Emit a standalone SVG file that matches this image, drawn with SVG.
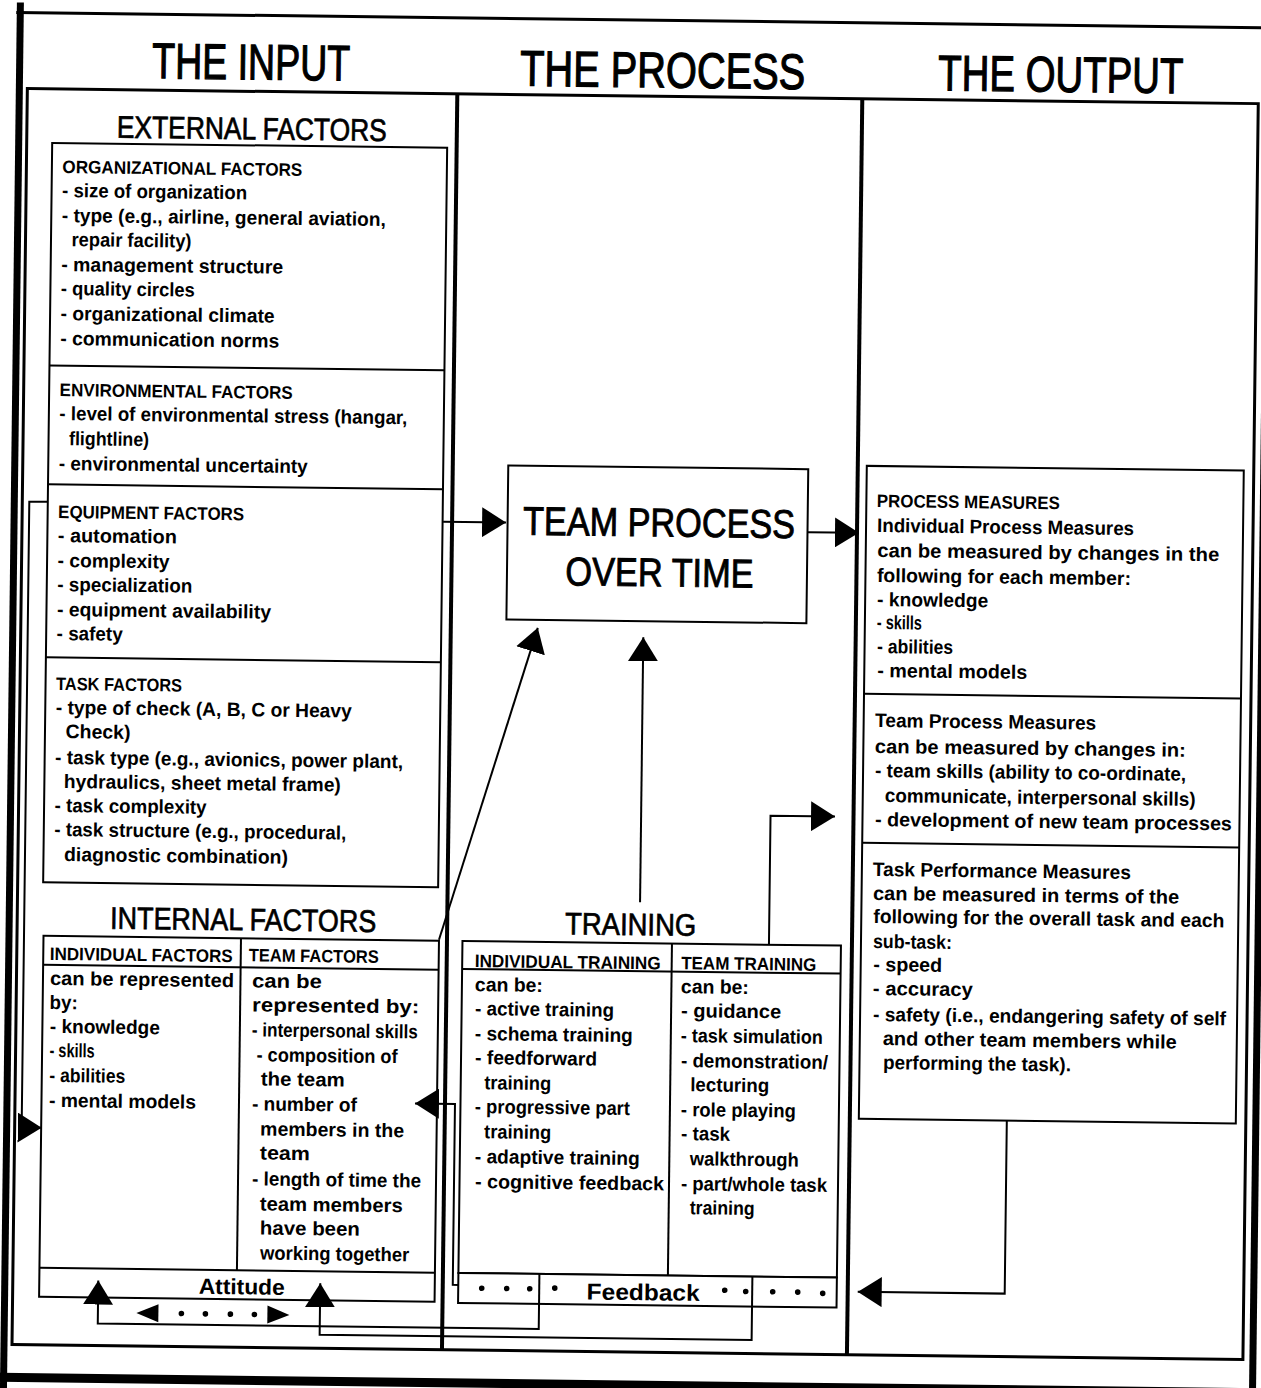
<svg xmlns="http://www.w3.org/2000/svg" width="1261" height="1388" viewBox="0 0 1261 1388">
<defs>
<style>
text{font-family:"Liberation Sans",Arial,sans-serif;fill:#000}
.b{font-size:19.5px;font-weight:bold}
.h{font-size:18px;font-weight:bold}
.big{font-size:50px;stroke:#000;stroke-width:1.2}
.mid{font-size:31px;stroke:#000;stroke-width:0.7}
.tp{font-size:40px;stroke:#000;stroke-width:0.9}
.lbl{font-size:22px;font-weight:bold}
.ln{stroke:#000;stroke-width:2;fill:none}
.box{stroke:#000;stroke-width:2;fill:#fff}
.c{stroke:#000;stroke-width:2;fill:none;marker-end:url(#ah)}
</style>
<marker id="ah" markerWidth="24" markerHeight="30" refX="24" refY="15" orient="auto" markerUnits="userSpaceOnUse"><path d="M0,0 L24,15 L0,30 z" fill="#000"/></marker>
</defs>
<rect width="1261" height="1388" fill="#fff"/>
<g transform="rotate(0.7 630 694)">
<g id="frame">
<line x1="12" y1="10" x2="12" y2="1400" stroke="#000" stroke-width="7"/>
<line x1="8" y1="20" x2="1265" y2="20" stroke="#000" stroke-width="3"/>
<line x1="1261" y1="18" x2="1261" y2="1400" stroke="#000" stroke-width="7"/>
<line x1="8" y1="1385" x2="1265" y2="1385" stroke="#000" stroke-width="9"/>
<rect x="20" y="96" width="1231" height="1256" fill="none" stroke="#000" stroke-width="3"/>
<line x1="450" y1="96" x2="450" y2="1352" stroke="#000" stroke-width="4"/>
<line x1="855" y1="96" x2="855" y2="1352" stroke="#000" stroke-width="4"/>
</g>
<g id="input-title"><text class="big" x="144.5" y="84" textLength="198" lengthAdjust="spacingAndGlyphs">THE INPUT</text></g>
<g id="process-title"><text class="big" x="512.6" y="87" textLength="285" lengthAdjust="spacingAndGlyphs">THE PROCESS</text></g>
<g id="output-title"><text class="big" x="930.7" y="86.5" textLength="245" lengthAdjust="spacingAndGlyphs">THE OUTPUT</text></g>

<g id="external-factors">
<text class="mid" x="110" y="144" textLength="270" lengthAdjust="spacingAndGlyphs">EXTERNAL FACTORS</text>
<rect class="box" x="45.5" y="150" width="395" height="739.5"/>
<line class="ln" x1="45.5" y1="372.5" x2="440.5" y2="372.5"/>
<line class="ln" x1="45.5" y1="491.5" x2="440.5" y2="491.5"/>
<line class="ln" x1="45.5" y1="664.5" x2="440.5" y2="664.5"/>
<text class="h" x="56" y="180" textLength="240" lengthAdjust="spacingAndGlyphs">ORGANIZATIONAL FACTORS</text>
<text class="b" x="56" y="204" textLength="185" lengthAdjust="spacingAndGlyphs">- size of organization</text>
<text class="b" x="56" y="229" textLength="324" lengthAdjust="spacingAndGlyphs">- type (e.g., airline, general aviation,</text>
<text class="b" x="66" y="253" textLength="120" lengthAdjust="spacingAndGlyphs">repair facility)</text>
<text class="b" x="56" y="278" textLength="222" lengthAdjust="spacingAndGlyphs">- management structure</text>
<text class="b" x="56" y="302" textLength="134" lengthAdjust="spacingAndGlyphs">- quality circles</text>
<text class="b" x="56" y="327" textLength="214" lengthAdjust="spacingAndGlyphs">- organizational climate</text>
<text class="b" x="56" y="352" textLength="219" lengthAdjust="spacingAndGlyphs">- communication norms</text>
<text class="h" x="56" y="403" textLength="233" lengthAdjust="spacingAndGlyphs">ENVIRONMENTAL FACTORS</text>
<text class="b" x="56" y="427" textLength="348" lengthAdjust="spacingAndGlyphs">- level of environmental stress (hangar,</text>
<text class="b" x="66" y="452" textLength="80" lengthAdjust="spacingAndGlyphs">flightline)</text>
<text class="b" x="56" y="477" textLength="249" lengthAdjust="spacingAndGlyphs">- environmental uncertainty</text>
<text class="h" x="56" y="525" textLength="186" lengthAdjust="spacingAndGlyphs">EQUIPMENT FACTORS</text>
<text class="b" x="56" y="549" textLength="119" lengthAdjust="spacingAndGlyphs">- automation</text>
<text class="b" x="56" y="574" textLength="112" lengthAdjust="spacingAndGlyphs">- complexity</text>
<text class="b" x="56" y="598" textLength="135" lengthAdjust="spacingAndGlyphs">- specialization</text>
<text class="b" x="56" y="623" textLength="214" lengthAdjust="spacingAndGlyphs">- equipment availability</text>
<text class="b" x="56" y="647" textLength="66" lengthAdjust="spacingAndGlyphs">- safety</text>
<text class="h" x="56" y="697" textLength="126" lengthAdjust="spacingAndGlyphs">TASK FACTORS</text>
<text class="b" x="56" y="721" textLength="296" lengthAdjust="spacingAndGlyphs">- type of check (A, B, C or Heavy</text>
<text class="b" x="66" y="745" textLength="65" lengthAdjust="spacingAndGlyphs">Check)</text>
<text class="b" x="56" y="771" textLength="348" lengthAdjust="spacingAndGlyphs">- task type (e.g., avionics, power plant,</text>
<text class="b" x="65" y="795" textLength="277" lengthAdjust="spacingAndGlyphs">hydraulics, sheet metal frame)</text>
<text class="b" x="56" y="819" textLength="152" lengthAdjust="spacingAndGlyphs">- task complexity</text>
<text class="b" x="56" y="843" textLength="292" lengthAdjust="spacingAndGlyphs">- task structure (e.g., procedural,</text>
<text class="b" x="66" y="868" textLength="224" lengthAdjust="spacingAndGlyphs">diagnostic combination)</text>
</g>

<g id="internal-factors">
<text class="mid" x="113" y="935" textLength="266" lengthAdjust="spacingAndGlyphs">INTERNAL FACTORS</text>
<rect class="box" x="46.5" y="943" width="395.5" height="361"/>
<line class="ln" x1="46.5" y1="972" x2="442" y2="972"/>
<line class="ln" x1="244" y1="943" x2="244" y2="1275"/>
<line class="ln" x1="46.5" y1="1275" x2="442" y2="1275"/>
<text class="h" x="53" y="967" textLength="183" lengthAdjust="spacingAndGlyphs">INDIVIDUAL FACTORS</text>
<text class="b" x="53.5" y="992" textLength="184" lengthAdjust="spacingAndGlyphs">can be represented</text>
<text class="b" x="53.5" y="1016" textLength="28" lengthAdjust="spacingAndGlyphs">by:</text>
<text class="b" x="54" y="1040" textLength="110" lengthAdjust="spacingAndGlyphs">- knowledge</text>
<text class="b" x="54" y="1064" textLength="45" lengthAdjust="spacingAndGlyphs">- skills</text>
<text class="b" x="54" y="1089" textLength="76" lengthAdjust="spacingAndGlyphs">- abilities</text>
<text class="b" x="54" y="1114" textLength="147" lengthAdjust="spacingAndGlyphs">- mental models</text>
<text class="h" x="252" y="966" textLength="130" lengthAdjust="spacingAndGlyphs">TEAM FACTORS</text>
<text class="b" x="255.5" y="992" textLength="70" lengthAdjust="spacingAndGlyphs">can be</text>
<text class="b" x="256" y="1016" textLength="167" lengthAdjust="spacingAndGlyphs">represented by:</text>
<text class="b" x="256" y="1041" textLength="166" lengthAdjust="spacingAndGlyphs">- interpersonal skills</text>
<text class="b" x="261" y="1066" textLength="141" lengthAdjust="spacingAndGlyphs">- composition of</text>
<text class="b" x="265.5" y="1090" textLength="84" lengthAdjust="spacingAndGlyphs">the team</text>
<text class="b" x="257" y="1115" textLength="105" lengthAdjust="spacingAndGlyphs">- number of</text>
<text class="b" x="265.5" y="1140" textLength="144" lengthAdjust="spacingAndGlyphs">members in the</text>
<text class="b" x="265.5" y="1164" textLength="50" lengthAdjust="spacingAndGlyphs">team</text>
<text class="b" x="258" y="1190" textLength="169" lengthAdjust="spacingAndGlyphs">- length of time the</text>
<text class="b" x="266" y="1215" textLength="143" lengthAdjust="spacingAndGlyphs">team members</text>
<text class="b" x="266.5" y="1239" textLength="100" lengthAdjust="spacingAndGlyphs">have been</text>
<text class="b" x="267" y="1264" textLength="149" lengthAdjust="spacingAndGlyphs">working together</text>
<text class="lbl" x="206" y="1299" textLength="86" lengthAdjust="spacingAndGlyphs">Attitude</text>
</g>

<g id="team-process">
<rect class="box" x="505.5" y="467" width="300" height="154"/>
<text class="tp" x="521" y="536" textLength="272" lengthAdjust="spacingAndGlyphs">TEAM PROCESS</text>
<text class="tp" x="564" y="586" textLength="188" lengthAdjust="spacingAndGlyphs">OVER TIME</text>
</g>

<g id="training">
<text class="mid" x="568" y="935" textLength="131" lengthAdjust="spacingAndGlyphs">TRAINING</text>
<rect class="box" x="465.5" y="943" width="378.5" height="332"/>
<line class="ln" x1="465.5" y1="971" x2="844" y2="971"/>
<line class="ln" x1="675" y1="943" x2="675" y2="1275"/>
<text class="h" x="478" y="969" textLength="186" lengthAdjust="spacingAndGlyphs">INDIVIDUAL TRAINING</text>
<text class="b" x="478.5" y="993" textLength="68" lengthAdjust="spacingAndGlyphs">can be:</text>
<text class="b" x="479" y="1017" textLength="139" lengthAdjust="spacingAndGlyphs">- active training</text>
<text class="b" x="479" y="1042" textLength="158" lengthAdjust="spacingAndGlyphs">- schema training</text>
<text class="b" x="479.5" y="1066" textLength="122" lengthAdjust="spacingAndGlyphs">- feedforward</text>
<text class="b" x="489" y="1091" textLength="67" lengthAdjust="spacingAndGlyphs">training</text>
<text class="b" x="480" y="1115" textLength="155" lengthAdjust="spacingAndGlyphs">- progressive part</text>
<text class="b" x="489.5" y="1140" textLength="67" lengthAdjust="spacingAndGlyphs">training</text>
<text class="b" x="480.5" y="1165" textLength="165" lengthAdjust="spacingAndGlyphs">- adaptive training</text>
<text class="b" x="481" y="1190" textLength="189" lengthAdjust="spacingAndGlyphs">- cognitive feedback</text>
<text class="h" x="684.5" y="968.5" textLength="135" lengthAdjust="spacingAndGlyphs">TEAM TRAINING</text>
<text class="b" x="684.5" y="992.5" textLength="68" lengthAdjust="spacingAndGlyphs">can be:</text>
<text class="b" x="685" y="1016.5" textLength="100" lengthAdjust="spacingAndGlyphs">- guidance</text>
<text class="b" x="685" y="1041.5" textLength="142" lengthAdjust="spacingAndGlyphs">- task simulation</text>
<text class="b" x="685.5" y="1066.5" textLength="147" lengthAdjust="spacingAndGlyphs">- demonstration/</text>
<text class="b" x="695" y="1090.5" textLength="79" lengthAdjust="spacingAndGlyphs">lecturing</text>
<text class="b" x="686" y="1115.5" textLength="115" lengthAdjust="spacingAndGlyphs">- role playing</text>
<text class="b" x="686.5" y="1139.5" textLength="49" lengthAdjust="spacingAndGlyphs">- task</text>
<text class="b" x="695.5" y="1164.5" textLength="109" lengthAdjust="spacingAndGlyphs">walkthrough</text>
<text class="b" x="687" y="1189.5" textLength="146" lengthAdjust="spacingAndGlyphs">- part/whole task</text>
<text class="b" x="696" y="1213.5" textLength="65" lengthAdjust="spacingAndGlyphs">training</text>
</g>

<g id="feedback">
<rect class="box" x="465.5" y="1275" width="378.5" height="30"/>
<line class="ln" x1="546.5" y1="1275" x2="546.5" y2="1305"/>
<line class="ln" x1="759.5" y1="1275" x2="759.5" y2="1305"/>
<g fill="#000">
<circle cx="489" cy="1290" r="2.8"/><circle cx="514" cy="1290" r="2.8"/><circle cx="537" cy="1290" r="2.8"/><circle cx="562" cy="1289" r="2.8"/>
<circle cx="732" cy="1289" r="2.8"/><circle cx="753" cy="1290" r="2.8"/><circle cx="780" cy="1290" r="2.8"/><circle cx="805" cy="1290" r="2.8"/><circle cx="830" cy="1291" r="2.8"/>
</g>
<text class="lbl" x="594" y="1300" textLength="113" lengthAdjust="spacingAndGlyphs" style="font-size:23px">Feedback</text>
</g>

<g id="output-measures">
<rect class="box" x="864" y="463" width="377" height="653"/>
<line class="ln" x1="864" y1="691" x2="1241" y2="691"/>
<line class="ln" x1="864" y1="840" x2="1241" y2="840"/>
<text class="h" x="874.5" y="504" textLength="183" lengthAdjust="spacingAndGlyphs">PROCESS MEASURES</text>
<text class="b" x="875" y="529" textLength="257" lengthAdjust="spacingAndGlyphs">Individual Process Measures</text>
<text class="b" x="875.5" y="554" textLength="342" lengthAdjust="spacingAndGlyphs">can be measured by changes in the</text>
<text class="b" x="875.5" y="579" textLength="254" lengthAdjust="spacingAndGlyphs">following for each member:</text>
<text class="b" x="876" y="603" textLength="111" lengthAdjust="spacingAndGlyphs">- knowledge</text>
<text class="b" x="876" y="626" textLength="45" lengthAdjust="spacingAndGlyphs">- skills</text>
<text class="b" x="876.5" y="650" textLength="76" lengthAdjust="spacingAndGlyphs">- abilities</text>
<text class="b" x="877" y="674" textLength="150" lengthAdjust="spacingAndGlyphs">- mental models</text>
<text class="b" x="875.5" y="724" textLength="221" lengthAdjust="spacingAndGlyphs">Team Process Measures</text>
<text class="b" x="875.5" y="750" textLength="311" lengthAdjust="spacingAndGlyphs">can be measured by changes in:</text>
<text class="b" x="876" y="774" textLength="311" lengthAdjust="spacingAndGlyphs">- team skills (ability to co-ordinate,</text>
<text class="b" x="886" y="799" textLength="311" lengthAdjust="spacingAndGlyphs">communicate, interpersonal skills)</text>
<text class="b" x="876.5" y="823" textLength="357" lengthAdjust="spacingAndGlyphs">- development of new team processes</text>
<text class="b" x="875" y="873" textLength="258" lengthAdjust="spacingAndGlyphs">Task Performance Measures</text>
<text class="b" x="875.5" y="897" textLength="306" lengthAdjust="spacingAndGlyphs">can be measured in terms of the</text>
<text class="b" x="876" y="920" textLength="351" lengthAdjust="spacingAndGlyphs">following for the overall task and each</text>
<text class="b" x="876" y="945" textLength="79" lengthAdjust="spacingAndGlyphs">sub-task:</text>
<text class="b" x="876.5" y="968" textLength="69" lengthAdjust="spacingAndGlyphs">- speed</text>
<text class="b" x="876.5" y="992" textLength="100" lengthAdjust="spacingAndGlyphs">- accuracy</text>
<text class="b" x="877" y="1018" textLength="353" lengthAdjust="spacingAndGlyphs">- safety (i.e., endangering safety of self</text>
<text class="b" x="887" y="1042" textLength="294" lengthAdjust="spacingAndGlyphs">and other team members while</text>
<text class="b" x="887.5" y="1066" textLength="188" lengthAdjust="spacingAndGlyphs">performing the task).</text>
</g>

<g id="connectors">
<path class="c" d="M441,524 H504"/>
<path class="c" d="M806,530 H857"/>
<path class="c" d="M642.6,902 V637"/>
<path class="c" d="M442,942 L537,629"/>
<path class="c" d="M772,943 V814 H836.5"/>
<path class="c" d="M1012,1116 V1289 H865"/>
<path class="c" d="M466,1287 H460 V1106 H420"/>
<path class="c" d="M45.5,509 H27 V1135 H47"/>
<path class="c" d="M546.5,1305 V1330 H105.5 V1287"/>
<path class="c" d="M759.5,1305 V1338.5 H327.5 V1287"/>
<g fill="#000">
<polygon points="144,1319 166,1310 166,1328"/>
<polygon points="297,1319 275,1310 275,1328"/>
<circle cx="189" cy="1319" r="2.8"/><circle cx="213" cy="1319" r="2.8"/><circle cx="238" cy="1319" r="2.8"/><circle cx="262" cy="1319" r="2.8"/>
</g>
</g>
</g>
</svg>
